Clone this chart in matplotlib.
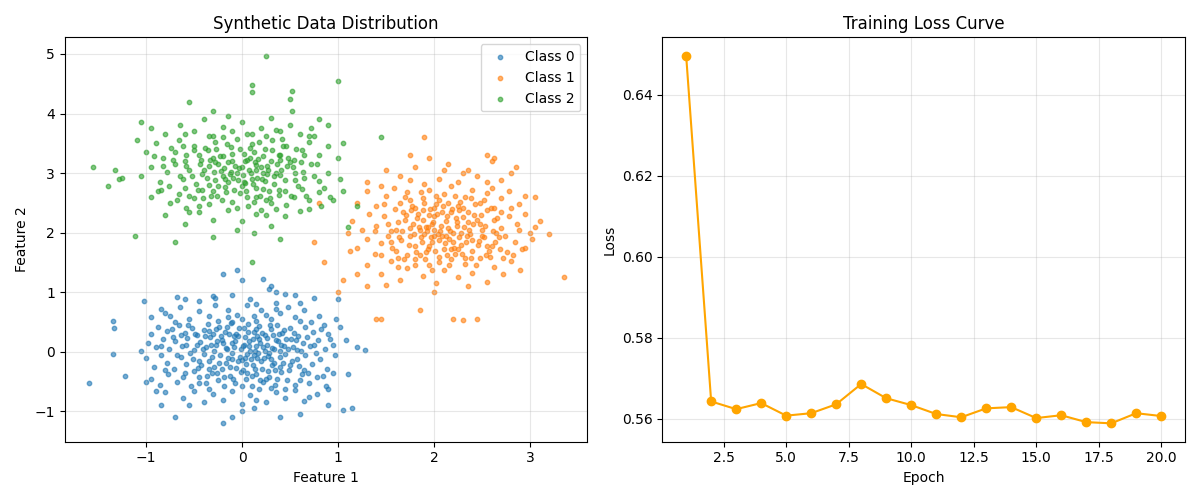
import numpy as np
import matplotlib
matplotlib.use("Agg")
import matplotlib.pyplot as plt

# ---- data (estimated) ----
class0_pts = [
    # sparse edge points
    (-1.60, -0.52), (-1.35, 0.52), (-1.33, 0.40), (-1.35, -0.03), (-1.22, -0.40),
    (-1.02, 0.85), (-0.20, 1.30), (-0.05, 1.37), (0.30, 1.10), (0.75, 0.90),
    (1.00, 0.88), (1.20, 0.08), (1.28, 0.03), (1.10, -0.38), (1.15, -0.95),
    (1.05, -0.97), (0.40, -1.10), (-0.20, -1.20), (-0.10, -1.10), (-0.70, -1.10),
    (-0.85, -0.90), (0.60, -1.05), (0.90, -0.90), (0.00, -1.00), (0.15, -0.80),
    (-1.00, -0.50), (-0.90, -0.65),
    # y 0.8 .. 1.4
    (0.28, 1.05), (0.35, 1.00), (-0.10, 0.95), (-0.30, 0.93), (-0.28, 0.90),
    (0.08, 0.88), (0.55, 0.95), (0.45, 0.97), (-0.60, 0.88), (0.00, 1.20),
    (0.22, 1.22), (0.35, 0.82), (0.15, 0.80), (-0.45, 0.85), (0.60, 0.82), (-0.68, 0.92),
    # y 0.5 .. 0.8
    (-0.85, 0.72), (-0.80, 0.65), (-0.75, 0.60), (-0.65, 0.75), (-0.55, 0.55),
    (-0.45, 0.68), (-0.35, 0.60), (-0.25, 0.52), (-0.15, 0.70), (-0.05, 0.62),
    (0.00, 0.55), (0.05, 0.78), (0.12, 0.60), (0.20, 0.70), (0.30, 0.55),
    (0.40, 0.65), (0.48, 0.75), (0.55, 0.58), (0.65, 0.70), (0.72, 0.50),
    (0.80, 0.60), (0.85, 0.45), (0.98, 0.55), (-0.95, 0.58), (-0.70, 0.50),
    (-0.28, 0.78), (0.15, 0.52), (0.35, 0.72), (-0.10, 0.50), (0.60, 0.52),
    # y 0.3 .. 0.5
    (-0.95, 0.30), (-0.88, 0.42), (-0.78, 0.35), (-0.72, 0.25), (-0.66, 0.45),
    (-0.60, 0.32), (-0.52, 0.40), (-0.47, 0.28), (-0.40, 0.36), (-0.36, 0.47),
    (-0.30, 0.30), (-0.24, 0.42), (-0.18, 0.34), (-0.12, 0.48), (-0.06, 0.30),
    (0.02, 0.40), (0.06, 0.46), (0.12, 0.33), (0.18, 0.44), (0.24, 0.28),
    (0.30, 0.38), (0.36, 0.45), (0.42, 0.31), (0.50, 0.40), (0.58, 0.27),
    (0.66, 0.42), (0.74, 0.33), (0.82, 0.38), (0.90, 0.30), (1.02, 0.42),
    # y 0.0 .. 0.3
    (-1.05, 0.02), (-0.98, 0.15), (-0.90, 0.08), (-0.82, 0.22), (-0.76, 0.05),
    (-0.70, 0.18), (-0.63, 0.10), (-0.57, 0.24), (-0.50, 0.03), (-0.44, 0.16),
    (-0.38, 0.08), (-0.33, 0.25), (-0.27, 0.12), (-0.21, 0.20), (-0.16, 0.04),
    (-0.10, 0.15), (-0.04, 0.26), (0.01, 0.09), (0.07, 0.19), (0.13, 0.02),
    (0.19, 0.14), (0.26, 0.23), (0.31, 0.06), (0.37, 0.18), (0.44, 0.10),
    (0.51, 0.22), (0.57, 0.03), (0.63, 0.15), (0.71, 0.09), (0.79, 0.20),
    (0.86, 0.04), (0.95, 0.12), (1.08, 0.20),
    # y -0.3 .. 0.0
    (-1.00, -0.10), (-0.92, -0.25), (-0.84, -0.05), (-0.78, -0.18), (-0.71, -0.28),
    (-0.64, -0.08), (-0.58, -0.20), (-0.51, -0.12), (-0.46, -0.27), (-0.40, -0.03),
    (-0.34, -0.16), (-0.29, -0.25), (-0.23, -0.06), (-0.17, -0.19), (-0.11, -0.02),
    (-0.06, -0.27), (0.00, -0.14), (0.05, -0.04), (0.11, -0.22), (0.16, -0.10),
    (0.21, -0.29), (0.27, -0.07), (0.33, -0.18), (0.39, -0.26), (0.45, -0.03),
    (0.52, -0.15), (0.59, -0.24), (0.66, -0.06), (0.73, -0.20), (0.81, -0.12),
    (0.88, -0.28), (0.97, -0.05),
    # y -0.6 .. -0.3
    (-0.95, -0.45), (-0.86, -0.55), (-0.77, -0.38), (-0.68, -0.50), (-0.60, -0.35),
    (-0.53, -0.58), (-0.45, -0.42), (-0.38, -0.53), (-0.31, -0.36), (-0.25, -0.48),
    (-0.19, -0.58), (-0.13, -0.40), (-0.07, -0.52), (-0.01, -0.34), (0.04, -0.45),
    (0.10, -0.57), (0.15, -0.37), (0.22, -0.50), (0.28, -0.42), (0.34, -0.56),
    (0.41, -0.33), (0.47, -0.47), (0.55, -0.55), (0.62, -0.38), (0.70, -0.52),
    (0.78, -0.43), (0.87, -0.58), (0.95, -0.36),
    # y -0.9 .. -0.6
    (-0.80, -0.68), (-0.62, -0.78), (-0.50, -0.65), (-0.40, -0.85), (-0.30, -0.70),
    (-0.20, -0.80), (-0.10, -0.66), (0.00, -0.88), (0.08, -0.72), (0.18, -0.62),
    (0.25, -0.85), (0.35, -0.68), (0.45, -0.78), (0.55, -0.64), (0.65, -0.82),
    (0.78, -0.70), (0.90, -0.62), (-0.35, -0.62), (0.12, -0.95), (-0.55, -0.90),
    (0.70, -0.75),
    # dense middle
    (-0.20, 0.15), (-0.15, -0.10), (-0.08, 0.08), (-0.02, -0.08), (0.03, 0.25),
    (0.09, -0.12), (0.14, 0.10), (0.20, -0.15), (0.24, 0.02), (0.30, -0.12),
    (0.35, 0.20), (0.40, -0.08), (-0.26, -0.35), (-0.35, 0.35), (0.15, 0.38),
    (0.25, -0.45), (0.48, 0.05), (-0.45, -0.15), (0.05, -0.36), (0.32, 0.28),
    (-0.58, 0.12), (-0.54, -0.02), (-0.49, 0.30), (-0.43, -0.22), (-0.41, 0.05),
    (-0.37, -0.40), (-0.32, 0.12), (-0.31, -0.08), (-0.27, 0.38), (-0.24, -0.18),
    (-0.22, 0.26), (-0.19, -0.42), (-0.17, 0.07), (-0.14, 0.30), (-0.13, -0.25),
    (-0.09, -0.45), (-0.07, 0.18), (-0.04, -0.15), (-0.03, 0.40), (0.01, -0.30),
    (0.02, 0.12), (0.04, -0.20), (0.06, 0.34), (0.08, 0.02), (0.10, -0.40),
    (0.11, 0.22), (0.13, -0.28), (0.16, 0.27), (0.17, -0.02), (0.19, -0.48),
    (0.21, 0.32), (0.23, -0.10), (0.26, 0.12), (0.27, -0.32), (0.29, 0.45),
    (0.31, -0.22), (0.33, 0.05), (0.36, -0.45), (0.38, 0.30), (0.41, 0.12),
    (0.43, -0.18), (0.46, 0.22), (0.49, -0.30), (0.53, 0.08), (0.54, 0.32),
    (0.57, -0.12), (0.61, 0.02), (0.64, -0.30), (-0.64, 0.28), (-0.62, -0.42),
    (-0.56, 0.45), (-0.50, -0.32), (-0.47, 0.12), (-0.39, 0.26), (-0.35, -0.28),
    (-0.29, 0.02), (-0.26, 0.18), (-0.21, -0.28), (-0.16, 0.42), (-0.11, -0.12),
    (-0.08, 0.26), (-0.01, 0.05), (0.03, -0.10), (0.07, 0.10), (0.12, -0.05),
    (0.18, 0.22), (0.22, 0.08), (0.28, -0.02), (0.34, -0.30), (0.39, 0.02),
    (0.44, 0.36), (0.50, -0.22), (0.56, 0.20), (0.60, -0.48), (0.68, 0.25),
    (0.69, -0.35), (0.75, 0.12), (0.77, -0.02), (-0.68, -0.05), (-0.73, 0.38),
    (-0.80, -0.30), (-0.85, 0.10), (0.84, -0.40), (0.92, 0.22), (-0.45, -0.52),
    (0.00, -0.58), (0.30, -0.60), (-0.15, 0.58), (0.25, 0.62), (0.45, -0.62),
]

class1_pts = [
    # sparse edge points
    (3.35, 1.25), (3.20, 1.97), (3.10, 2.20), (3.05, 2.60), (3.00, 2.00),
    (2.95, 1.75), (2.85, 3.10), (2.55, 3.30), (2.60, 3.20), (1.90, 3.60),
    (1.75, 3.30), (2.30, 3.00), (0.75, 1.85), (0.85, 1.50), (1.00, 1.00),
    (1.05, 1.20), (1.40, 0.55), (1.45, 0.55), (1.85, 0.70), (2.00, 1.00),
    (2.30, 0.53), (2.45, 0.55), (2.20, 0.55), (1.12, 1.70), (1.10, 2.00),
    (0.80, 2.50), (1.30, 1.10), (1.20, 1.30),
    # y 2.8 .. 3.3
    (1.50, 3.05), (1.65, 2.95), (1.80, 3.10), (1.95, 3.25), (2.05, 2.90),
    (2.15, 3.15), (2.25, 2.85), (2.35, 3.05), (2.45, 2.95), (2.62, 3.25),
    (2.70, 2.88), (1.90, 2.82), (1.30, 2.85), (2.55, 2.85), (2.10, 3.05),
    (1.75, 2.88), (2.80, 3.00),
    # y 2.4 .. 2.8
    (1.20, 2.50), (1.30, 2.70), (1.40, 2.45), (1.50, 2.62), (1.58, 2.75),
    (1.65, 2.50), (1.72, 2.68), (1.80, 2.42), (1.88, 2.58), (1.95, 2.72),
    (2.02, 2.48), (2.10, 2.65), (2.18, 2.78), (2.25, 2.45), (2.32, 2.60),
    (2.40, 2.72), (2.48, 2.50), (2.55, 2.66), (2.62, 2.42), (2.70, 2.58),
    (2.78, 2.70), (2.88, 2.48), (2.95, 2.62), (1.45, 2.78), (2.05, 2.55),
    (2.30, 2.42), (1.75, 2.55), (2.60, 2.75),
    # y 2.0 .. 2.4
    (1.15, 2.20), (1.25, 2.05), (1.32, 2.32), (1.40, 2.12), (1.48, 2.28),
    (1.55, 2.02), (1.62, 2.18), (1.68, 2.35), (1.75, 2.08), (1.82, 2.25),
    (1.88, 2.38), (1.94, 2.10), (2.00, 2.28), (2.06, 2.02), (2.12, 2.20),
    (2.18, 2.35), (2.24, 2.12), (2.30, 2.26), (2.36, 2.05), (2.42, 2.30),
    (2.48, 2.15), (2.55, 2.38), (2.62, 2.22), (2.70, 2.08), (2.78, 2.28),
    (2.86, 2.15), (2.95, 2.32), (3.05, 2.10), (1.98, 2.15), (2.15, 2.08),
    (2.35, 2.18), (2.08, 2.35), (1.70, 2.22), (2.50, 2.05),
    # y 1.6 .. 2.0
    (1.20, 1.75), (1.30, 1.90), (1.38, 1.65), (1.45, 1.82), (1.52, 1.95),
    (1.60, 1.70), (1.66, 1.88), (1.72, 1.62), (1.80, 1.78), (1.86, 1.92),
    (1.92, 1.68), (1.98, 1.85), (2.04, 1.98), (2.10, 1.72), (2.16, 1.90),
    (2.22, 1.64), (2.28, 1.80), (2.34, 1.95), (2.40, 1.70), (2.47, 1.86),
    (2.54, 1.62), (2.60, 1.78), (2.68, 1.92), (2.76, 1.68), (2.84, 1.85),
    (2.92, 1.72), (3.02, 1.90), (1.95, 1.78), (2.20, 1.85), (1.75, 1.95),
    (2.50, 1.95), (2.05, 1.60),
    # y 1.1 .. 1.6
    (1.30, 1.45), (1.45, 1.30), (1.55, 1.52), (1.65, 1.20), (1.72, 1.40),
    (1.80, 1.55), (1.88, 1.28), (1.95, 1.45), (2.02, 1.15), (2.10, 1.38),
    (2.18, 1.55), (2.25, 1.25), (2.32, 1.48), (2.40, 1.32), (2.48, 1.58),
    (2.55, 1.18), (2.62, 1.42), (2.72, 1.30), (2.80, 1.52), (2.90, 1.38),
    (2.58, 1.60), (1.62, 1.58), (2.05, 1.50), (1.50, 1.12), (2.35, 1.10),
    # dense middle
    (1.85, 2.05), (1.90, 1.98), (2.00, 2.05), (2.12, 1.95), (2.20, 2.00),
    (2.28, 2.00), (1.78, 2.15), (2.40, 1.88), (2.45, 2.22), (1.60, 2.05),
    (2.65, 2.00), (1.95, 2.30), (2.25, 1.72), (1.85, 1.62), (2.70, 2.35),
    (2.00, 2.42), (1.55, 1.85), (2.55, 1.78), (2.15, 2.50), (1.90, 2.50),
    (1.52, 2.15), (1.56, 1.75), (1.59, 2.40), (1.63, 1.92), (1.67, 2.02),
    (1.69, 1.55), (1.71, 2.30), (1.74, 1.80), (1.77, 2.45), (1.79, 1.98),
    (1.81, 1.68), (1.83, 2.32), (1.84, 2.10), (1.87, 1.85), (1.89, 2.22),
    (1.91, 1.55), (1.93, 2.02), (1.96, 2.40), (1.97, 1.92), (1.99, 2.18),
    (2.01, 1.70), (2.03, 2.32), (2.05, 1.88), (2.07, 2.12), (2.09, 2.45),
    (2.11, 1.82), (2.13, 2.28), (2.14, 1.62), (2.17, 2.02), (2.19, 2.40),
    (2.21, 1.75), (2.23, 2.25), (2.26, 1.92), (2.27, 2.52), (2.29, 1.65),
    (2.31, 2.10), (2.33, 1.85), (2.35, 2.35), (2.37, 1.98), (2.39, 1.58),
    (2.41, 2.15), (2.43, 2.48), (2.46, 1.80), (2.49, 2.30), (2.52, 1.92),
    (2.53, 2.12), (2.57, 1.70), (2.59, 2.42), (2.61, 2.02), (2.64, 1.85),
    (2.66, 2.25), (2.69, 1.72), (1.70, 2.60), (1.86, 2.68), (2.02, 2.62),
    (2.22, 2.62), (2.38, 2.58), (2.52, 2.55), (1.80, 1.45), (1.98, 1.38),
    (2.16, 1.45), (2.32, 1.58), (1.62, 1.42), (2.44, 1.45), (2.72, 1.58),
    (2.80, 2.42), (2.74, 1.95), (1.48, 2.48), (1.45, 1.62), (1.38, 2.02),
    (2.88, 2.05), (2.82, 1.62), (1.92, 2.10), (2.08, 1.95), (2.24, 2.18),
    (2.00, 1.95), (1.94, 1.72), (2.18, 1.72), (2.26, 2.38), (1.76, 2.38),
]

class2_pts = [
    # sparse edge points
    (-1.55, 3.10), (-1.40, 2.78), (-1.32, 3.05), (-1.28, 2.90), (-1.25, 2.92),
    (-1.12, 1.95), (-0.30, 1.92), (0.25, 4.97), (0.10, 4.48), (0.10, 4.36),
    (0.52, 4.38), (0.52, 4.05), (0.50, 4.25), (1.00, 4.55), (-0.55, 4.20),
    (-0.30, 4.05), (-1.05, 3.85), (-1.10, 3.55), (0.80, 3.90), (0.75, 3.62),
    (-0.70, 1.85), (0.10, 1.50), (1.45, 3.60), (1.05, 3.50), (1.20, 2.45),
    (1.10, 2.10), (0.82, 2.45), (0.12, 2.00), (0.40, 1.90), (0.70, 2.40),
    (0.95, 2.55), (1.05, 2.70),
    # y 3.6 .. 4.0
    (-0.95, 3.75), (-0.80, 3.65), (-0.65, 3.80), (-0.50, 3.70), (-0.40, 3.90),
    (-0.30, 3.62), (-0.20, 3.78), (-0.10, 3.70), (0.00, 3.85), (0.10, 3.65),
    (0.20, 3.75), (0.30, 3.92), (0.40, 3.70), (0.50, 3.80), (0.60, 3.65),
    (0.72, 3.75), (-0.60, 3.65), (-0.15, 3.95), (0.25, 3.62), (0.90, 3.80),
    # y 3.2 .. 3.6
    (-1.00, 3.35), (-0.90, 3.50), (-0.82, 3.25), (-0.74, 3.42), (-0.66, 3.55),
    (-0.58, 3.30), (-0.50, 3.46), (-0.43, 3.22), (-0.36, 3.38), (-0.28, 3.52),
    (-0.20, 3.28), (-0.12, 3.44), (-0.05, 3.58), (0.02, 3.32), (0.10, 3.48),
    (0.17, 3.24), (0.24, 3.40), (0.31, 3.55), (0.38, 3.30), (0.46, 3.45),
    (0.54, 3.22), (0.62, 3.38), (0.70, 3.52), (0.80, 3.30), (0.90, 3.45),
    (1.00, 3.25), (-0.30, 3.25), (0.05, 3.22), (-0.60, 3.20), (0.42, 3.58),
    # y 2.8 .. 3.2
    (-1.05, 2.95), (-0.95, 3.10), (-0.86, 2.85), (-0.78, 3.02), (-0.70, 3.15),
    (-0.62, 2.90), (-0.55, 3.06), (-0.48, 2.82), (-0.42, 2.98), (-0.35, 3.12),
    (-0.28, 2.88), (-0.22, 3.04), (-0.15, 3.18), (-0.09, 2.92), (-0.03, 3.08),
    (0.03, 2.84), (0.09, 3.00), (0.15, 3.14), (0.21, 2.90), (0.27, 3.06),
    (0.33, 2.82), (0.40, 2.96), (0.47, 3.12), (0.55, 2.88), (0.63, 3.02),
    (0.72, 3.16), (0.80, 2.86), (0.90, 3.00), (1.02, 2.90), (-0.20, 2.95),
    (0.10, 2.90), (0.20, 3.10), (-0.40, 3.05), (0.35, 3.00), (-0.05, 3.00),
    (0.50, 3.18),
    # y 2.4 .. 2.8
    (-0.95, 2.60), (-0.85, 2.72), (-0.75, 2.50), (-0.66, 2.65), (-0.58, 2.42),
    (-0.50, 2.58), (-0.42, 2.72), (-0.34, 2.48), (-0.26, 2.62), (-0.18, 2.76),
    (-0.10, 2.52), (-0.02, 2.66), (0.06, 2.44), (0.14, 2.60), (0.22, 2.74),
    (0.30, 2.50), (0.38, 2.64), (0.46, 2.46), (0.54, 2.60), (0.62, 2.74),
    (0.70, 2.55), (0.80, 2.68), (0.92, 2.60), (0.00, 2.78), (0.25, 2.55),
    (-0.30, 2.70),
    # y 2.0 .. 2.4
    (-0.80, 2.30), (-0.60, 2.15), (-0.45, 2.35), (-0.30, 2.22), (-0.15, 2.38),
    (0.00, 2.20), (0.15, 2.32), (0.30, 2.12), (0.45, 2.28), (0.60, 2.36),
    (-0.05, 2.05), (0.25, 2.30), (0.20, 2.38), (-0.55, 2.35),
    # dense middle
    (-0.25, 3.15), (-0.10, 3.20), (0.00, 3.10), (0.12, 3.35), (0.22, 3.00),
    (0.30, 3.20), (-0.35, 2.80), (-0.45, 3.30), (0.15, 2.75), (0.40, 3.30),
    (-0.15, 2.85), (0.05, 2.60), (0.28, 2.70), (0.55, 3.00), (-0.60, 2.75),
    (0.65, 3.30), (-0.70, 3.35), (0.45, 2.70), (-0.20, 3.60), (0.75, 2.95),
    (-0.58, 3.12), (-0.55, 2.62), (-0.52, 2.95), (-0.50, 3.38), (-0.46, 2.72),
    (-0.44, 3.15), (-0.41, 2.58), (-0.39, 3.42), (-0.37, 2.92), (-0.33, 3.22),
    (-0.32, 2.62), (-0.29, 3.02), (-0.27, 3.40), (-0.25, 2.78), (-0.23, 3.28),
    (-0.21, 2.55), (-0.19, 3.08), (-0.17, 2.68), (-0.16, 3.48), (-0.13, 2.98),
    (-0.11, 3.32), (-0.08, 2.72), (-0.07, 3.12), (-0.04, 2.88), (-0.02, 3.40),
    (0.01, 2.96), (0.03, 3.20), (0.04, 2.70), (0.07, 3.05), (0.08, 3.42),
    (0.11, 2.82), (0.13, 3.18), (0.16, 2.92), (0.18, 3.52), (0.19, 2.62),
    (0.22, 3.28), (0.24, 2.86), (0.26, 3.12), (0.29, 2.58), (0.31, 3.38),
    (0.33, 2.95), (0.36, 3.15), (0.38, 2.72), (0.41, 3.05), (0.43, 3.45),
    (0.45, 2.88), (0.48, 3.26), (0.51, 2.62), (0.53, 3.10), (0.56, 3.40),
    (0.58, 2.78), (0.61, 3.18), (0.64, 2.92), (0.67, 2.62), (-0.62, 3.45),
    (-0.65, 2.95), (-0.68, 2.55), (-0.72, 3.22), (-0.76, 2.78), (-0.82, 3.12),
    (-0.88, 2.70), (-0.92, 3.28), (0.70, 3.62), (0.78, 3.15), (0.85, 2.75),
    (-0.35, 3.62), (0.05, 3.65), (0.35, 3.72), (-0.45, 2.45), (-0.05, 2.42),
    (0.35, 2.40), (0.12, 2.52), (-0.12, 3.02), (0.02, 2.85), (0.14, 3.05),
    (-0.28, 3.18), (0.26, 2.98), (-0.18, 2.90), (0.40, 3.22), (0.08, 3.25),
]

class_names = ["Class 0", "Class 1", "Class 2"]

epochs = list(range(1, 21))
loss = [0.6496, 0.5643, 0.5624, 0.5639, 0.5608, 0.5614, 0.5636, 0.5686, 0.5651, 0.5634,
        0.5612, 0.5604, 0.5626, 0.5629, 0.5602, 0.5609, 0.5592, 0.5589, 0.5614, 0.5607]

# ---- plot ----
fig, (ax1, ax2) = plt.subplots(1, 2, figsize=(12, 5), dpi=100)

for name, pts in zip(class_names, [class0_pts, class1_pts, class2_pts]):
    pts = np.array(pts)
    ax1.scatter(pts[:, 0], pts[:, 1], s=10, alpha=0.6, label=name)
ax1.set_title("Synthetic Data Distribution")
ax1.set_xlabel("Feature 1")
ax1.set_ylabel("Feature 2")
ax1.legend(loc="upper right")
ax1.grid(True, alpha=0.3)

ax2.plot(epochs, loss, marker="o", color="orange")
ax2.set_title("Training Loss Curve")
ax2.set_xlabel("Epoch")
ax2.set_ylabel("Loss")
ax2.grid(True, alpha=0.3)

plt.tight_layout()
plt.savefig("out.png")
